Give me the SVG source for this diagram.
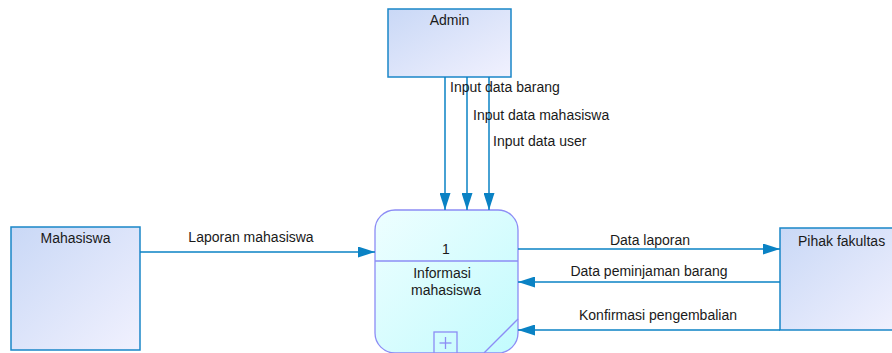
<svg xmlns="http://www.w3.org/2000/svg" width="892" height="353" viewBox="0 0 892 353">
<style>
.ent{stroke:#1a86c8;stroke-width:1.5;fill:url(#gEnt)}
.proc{stroke:#8c8cf5;stroke-width:1.3;fill:url(#gProc)}
.pl{stroke:#8c8cf5;stroke-width:1.3;fill:none}
.flow{stroke:#0a82c4;stroke-width:1.5;fill:none}
text{font-family:"Liberation Sans",Arial,sans-serif;font-size:14px;fill:#1a1a1a}
.c{text-anchor:middle}
</style>
<defs>
<linearGradient id="gEnt" x1="0" y1="0" x2="1" y2="1">
<stop offset="0" stop-color="#c9d8f6"/>
<stop offset="1" stop-color="#f1f1fe"/>
</linearGradient>
<linearGradient id="gProc" x1="0" y1="0" x2="1" y2="1">
<stop offset="0" stop-color="#eefeff"/>
<stop offset="1" stop-color="#c2fbfd"/>
</linearGradient>
<marker id="ah" markerWidth="17" markerHeight="11" refX="17" refY="5.5" orient="auto" markerUnits="userSpaceOnUse">
<path d="M0,0 L17,5.5 L0,11 Z" fill="#0a82c4"/>
</marker>
</defs>
<g id="admin">
<rect class="ent" x="388" y="9" width="123" height="68"/>
<text class="c" x="449.5" y="25">Admin</text>
</g>
<g id="mahasiswa">
<rect class="ent" x="11" y="227" width="129" height="123"/>
<text class="c" x="75.5" y="243">Mahasiswa</text>
</g>
<g id="pihak">
<rect class="ent" x="780" y="228" width="120" height="102"/>
<text x="798" y="246">Pihak fakultas</text>
</g>
<g id="proses">
<rect class="proc" x="375" y="210" width="143" height="143" rx="20" ry="20"/>
<line class="pl" x1="375" y1="261" x2="518" y2="261"/>
<text class="c" x="446" y="254">1</text>
<text class="c" x="442" y="278">Informasi</text>
<text class="c" x="446" y="295">mahasiswa</text>
<rect class="pl" x="434" y="332" width="23" height="30"/>
<line class="pl" x1="445.5" y1="337" x2="445.5" y2="349"/>
<line class="pl" x1="439.5" y1="343" x2="451.5" y2="343"/>
<line class="pl" x1="518" y1="319" x2="484" y2="353"/>
</g>
<g id="connectors">
<line class="flow" x1="445" y1="77" x2="445" y2="210" marker-end="url(#ah)"/>
<line class="flow" x1="467" y1="77" x2="467" y2="210" marker-end="url(#ah)"/>
<line class="flow" x1="489" y1="77" x2="489" y2="210" marker-end="url(#ah)"/>
<line class="flow" x1="140" y1="252" x2="375" y2="252" marker-end="url(#ah)"/>
<line class="flow" x1="518" y1="249" x2="780" y2="249" marker-end="url(#ah)"/>
<line class="flow" x1="780" y1="282" x2="518" y2="282" marker-end="url(#ah)"/>
<line class="flow" x1="780" y1="330" x2="518" y2="330" marker-end="url(#ah)"/>
<text x="450" y="92">Input data barang</text>
<text x="473" y="120">Input data mahasiswa</text>
<text x="493" y="146">Input data user</text>
<text class="c" x="251" y="242">Laporan mahasiswa</text>
<text class="c" x="650" y="245">Data laporan</text>
<text class="c" x="649" y="276">Data peminjaman barang</text>
<text class="c" x="658" y="320">Konfirmasi pengembalian</text>
</g>
</svg>
